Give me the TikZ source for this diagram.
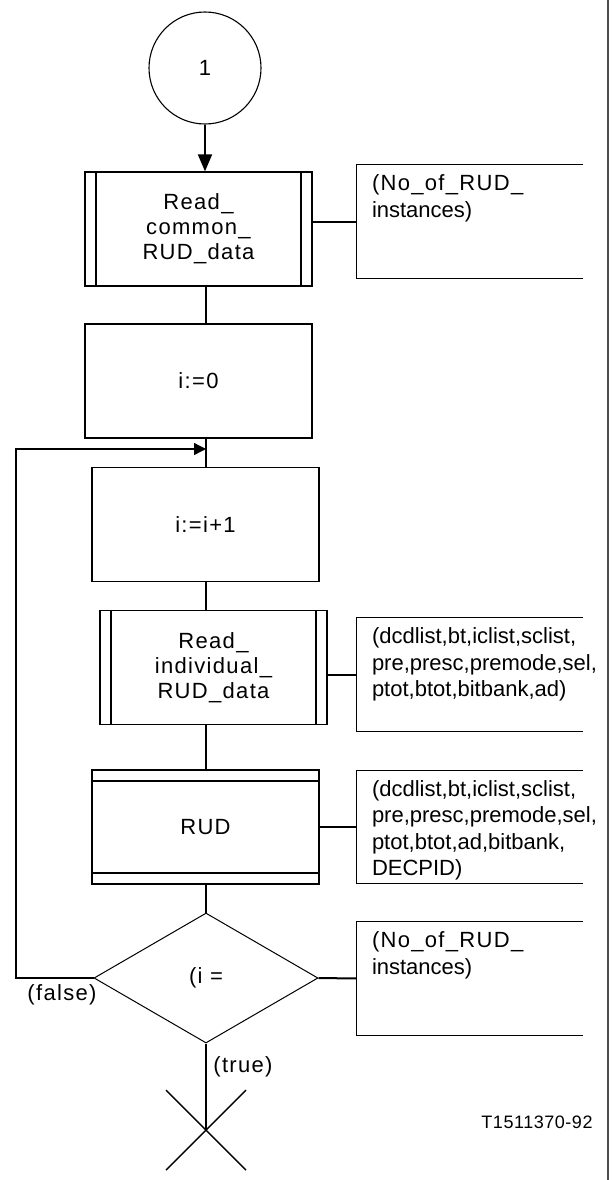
\documentclass[tikz,border=0pt]{standalone}
\usepackage{fontspec}
\setmainfont{Liberation Sans}
\usepackage{tikz}
\usetikzlibrary{arrows.meta,shapes}

\newcommand{\boxfont}{\fontsize{22}{25}\selectfont\addfontfeature{LetterSpace=6}}
\newcommand{\cmtfont}{\fontsize{22}{26.5}\selectfont}
\newcommand{\tagfont}{\fontsize{18}{20}\selectfont\addfontfeature{LetterSpace=3}}

\tikzset{
  stepbox/.style={draw, line width=1.3pt, minimum width=227pt, minimum height=114pt,
    inner sep=0pt, align=center, font=\boxfont},
  subbox/.style={stepbox, path picture={
    \draw[line width=2.2pt] ([xshift=11pt]path picture bounding box.north west)
      -- ([xshift=11pt]path picture bounding box.south west);
    \draw[line width=2.2pt] ([xshift=-11pt]path picture bounding box.north east)
      -- ([xshift=-11pt]path picture bounding box.south east);}},
  procbox/.style={stepbox, path picture={
    \draw[line width=2.2pt] ([yshift=-11pt]path picture bounding box.north west)
      -- ([yshift=-11pt]path picture bounding box.north east);
    \draw[line width=2.2pt] ([yshift=11pt]path picture bounding box.south west)
      -- ([yshift=11pt]path picture bounding box.south east);}},
  cmt/.style={minimum width=226pt, minimum height=113pt, inner sep=0pt},
  cmttext/.style={anchor=north west, inner sep=0pt, align=left, font=\cmtfont},
  flow/.style={line width=2pt},
  thinflow/.style={line width=1.3pt},
  tip/.style={-{Triangle[length=17pt,width=14pt]}},
  smalltip/.style={-{Triangle[length=12pt,width=12pt]}}
}

\begin{document}
\begin{tikzpicture}[x=1pt,y=-1pt]
 \useasboundingbox (0,0) rectangle (612,1180);
 \coordinate (spine) at (206,0);
 \coordinate (lp) at (16,449);

 \node[draw, circle, line width=1.1pt, minimum size=112pt, inner sep=0pt, font=\boxfont] (start) at (205,68) {1};
 \node[subbox] (rcd) at (198.5,229) {Read\_\\common\_\\RUD\_data};
 \node[stepbox] (iz) at (198.5,381) {i:=0};
 \node[stepbox] (inc) at (205.5,524.5) {i:=i+1};
 \node[subbox] (rid) at (213.5,667.5) {Read\_\\individual\_\\RUD\_data};
 \node[procbox] (rud) at (205.5,827) {RUD};
 \node[draw, diamond, line width=1pt, minimum width=224pt, minimum height=130pt,
   inner sep=0pt, font=\boxfont] (dec) at (206,978) {(i =};
 \coordinate (stop) at (206,1130);

 % comments
 \node[cmt] (c1) at (470,221.5) {};
 \node[cmt] (c2) at (470,674.5) {};
 \node[cmt] (c3) at (470,827) {};
 \node[cmt] (c4) at (470,978.5) {};
 \foreach \c in {c1,c2,c3,c4}
   \draw[line width=1.3pt] (\c.north east) -- (\c.north west) -- (\c.south west) -- (\c.south east);
 \node[cmttext] (c1t) at ([shift={(15,10)}]c1.north west) {\addfontfeature{LetterSpace=6}(No\_of\_RUD\_\\instances)};
 \node[cmttext] (c2t) at ([shift={(15,10)}]c2.north west) {(dcdlist,bt,iclist,sclist,\\pre,presc,premode,sel,\\ptot,btot,bitbank,ad)};
 \node[cmttext] (c3t) at ([shift={(15,10)}]c3.north west) {(dcdlist,bt,iclist,sclist,\\pre,presc,premode,sel,\\ptot,btot,ad,bitbank,\\DECPID)};
 \node[cmttext] (c4t) at ([shift={(15,10)}]c4.north west) {\addfontfeature{LetterSpace=6}(No\_of\_RUD\_\\instances)};

 \draw[flow,tip] (start.south) -- (start.south |- rcd.north);
 \draw[flow] (rcd.south -| spine) -- (iz.north -| spine);
 \draw[flow] (iz.south -| spine) -- (inc.north -| spine);
 \draw[flow] (inc.south -| spine) -- (rid.north -| spine);
 \draw[flow] (rid.south -| spine) -- (rud.north -| spine);
 \draw[flow] (rud.south -| spine) -- (dec.north);
 \draw[flow] (dec.south) -- (stop);
 \draw[thinflow,smalltip] (dec.west) -- (dec.west -| lp) -- (lp) -- (lp -| spine);

 \draw[flow] (rcd.east |- c1.west) -- (c1.west);
 \draw[flow] (rid.east |- c2.west) -- (c2.west);
 \draw[flow] (rud.east |- c3.west) -- (c3.west);
 \draw[flow] (dec.east) -- (c4.west);

 \draw[line width=1.4pt] ([shift={(-40,-40)}]stop) -- ([shift={(40,40)}]stop);
 \draw[line width=1.4pt] ([shift={(40,-40)}]stop) -- ([shift={(-40,40)}]stop);

 \node[font=\boxfont] (nf) at (62,995) {(false)};
 \node[font=\boxfont] (nt) at (243,1067) {(true)};
 \node[font=\tagfont] (tag) at (537,1122) {T1511370-92};

 \draw[black!70, line width=2pt] (608,0) -- (608,1180);
\end{tikzpicture}
\end{document}
